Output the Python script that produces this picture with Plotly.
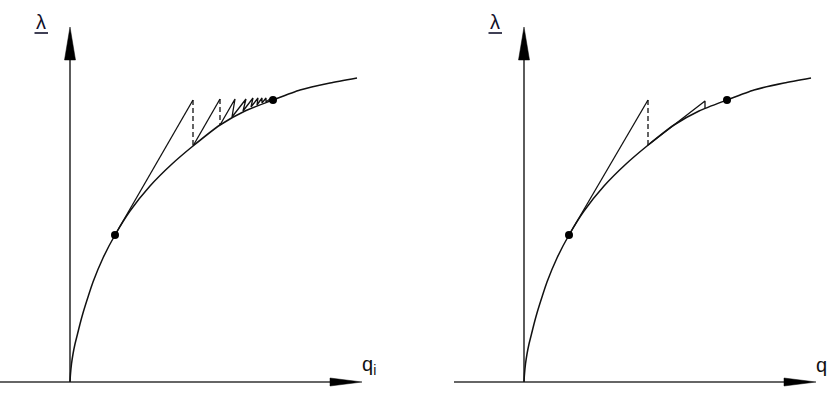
import plotly.graph_objects as go

# Equilibrium path lambda(q) shared by both panels (q, lambda in plot units)
curve_q = [0.000, 0.005, 0.015, 0.030, 0.050, 0.075, 0.10, 0.13, 0.18, 0.23, 0.33,
           0.45, 0.60, 0.80, 1.02, 1.23, 1.50, 1.75, 2.03, 2.30, 2.60, 2.87]
curve_lam = [0.00, 0.08, 0.18, 0.28, 0.38, 0.48, 0.58, 0.69, 0.85, 1.00, 1.24,
             1.47, 1.71, 1.96, 2.18, 2.36, 2.57, 2.71, 2.82, 2.92, 2.99, 3.04]

# Start and end states marked with dots
state_q = [0.45, 2.03]
state_lam = [1.47, 2.82]

# Left panel: constant-stiffness predictor steps with many corrections
left_pred_q = [0.45, 1.23, None, 1.23, 1.50, None,
               1.50, 1.65, 1.62, 1.76, 1.73, 1.83, 1.81, 1.88, 1.87, 1.92,
               1.92, 1.96, 1.96, 2.00]
left_pred_lam = [1.47, 2.82, None, 2.36, 2.83, None,
                 2.57, 2.83, 2.65, 2.83, 2.71, 2.84, 2.75, 2.84, 2.77, 2.84,
                 2.79, 2.84, 2.80, 2.83]
left_corr_q = [1.23, 1.23, None, 1.50, 1.50]
left_corr_lam = [2.82, 2.36, None, 2.83, 2.57]

# Right panel: tangent-stiffness predictor steps
right_pred_q = [0.45, 1.24, None, 1.24, 1.81, 1.81]
right_pred_lam = [1.47, 2.82, None, 2.37, 2.81, 2.74]
right_corr_q = [1.24, 1.24]
right_corr_lam = [2.82, 2.37]

# Coordinate axes drawn as arrows
axis_q_min, axis_q_tip = -0.70, 2.92
axis_lam_tip = 3.55
head_len_v, head_half_v = 0.33, 0.055
head_len_h, head_half_h = 0.32, 0.04

x_labels = ["q<sub>i</sub>", "q"]

INK = "#111111"
AXIS = "#333333"

fig = go.Figure()

panels = [
    ("x", "y", left_pred_q, left_pred_lam, left_corr_q, left_corr_lam),
    ("x2", "y2", right_pred_q, right_pred_lam, right_corr_q, right_corr_lam),
]

for idx, (xa, ya, pq, pl, cq, cl) in enumerate(panels):
    # axes
    fig.add_trace(go.Scatter(x=[axis_q_min, axis_q_tip - head_len_h], y=[0, 0],
                             mode="lines", line=dict(color=AXIS, width=1.6),
                             xaxis=xa, yaxis=ya, hoverinfo="skip"))
    fig.add_trace(go.Scatter(x=[0, 0], y=[0, axis_lam_tip - head_len_v],
                             mode="lines", line=dict(color=AXIS, width=1.6),
                             xaxis=xa, yaxis=ya, hoverinfo="skip"))
    # arrow heads
    fig.add_trace(go.Scatter(
        x=[axis_q_tip, axis_q_tip - head_len_h, axis_q_tip - head_len_h, axis_q_tip],
        y=[0, head_half_h, -head_half_h, 0],
        mode="lines", fill="toself", fillcolor="#000000",
        line=dict(color="#000000", width=0.5), xaxis=xa, yaxis=ya, hoverinfo="skip"))
    fig.add_trace(go.Scatter(
        x=[0, -head_half_v, head_half_v, 0],
        y=[axis_lam_tip, axis_lam_tip - head_len_v, axis_lam_tip - head_len_v, axis_lam_tip],
        mode="lines", fill="toself", fillcolor="#000000",
        line=dict(color="#000000", width=0.5), xaxis=xa, yaxis=ya, hoverinfo="skip"))
    # equilibrium path
    fig.add_trace(go.Scatter(x=curve_q, y=curve_lam, mode="lines",
                             line=dict(color=INK, width=1.5, shape="spline", smoothing=0.6),
                             xaxis=xa, yaxis=ya, hoverinfo="skip"))
    # predictor and corrector steps
    fig.add_trace(go.Scatter(x=pq, y=pl, mode="lines",
                             line=dict(color=INK, width=1.3),
                             xaxis=xa, yaxis=ya, hoverinfo="skip"))
    fig.add_trace(go.Scatter(x=cq, y=cl, mode="lines",
                             line=dict(color=INK, width=1.3, dash="5px,3px"),
                             xaxis=xa, yaxis=ya, hoverinfo="skip"))
    # state points
    fig.add_trace(go.Scatter(x=state_q, y=state_lam, mode="markers",
                             marker=dict(color="#000000", size=8),
                             xaxis=xa, yaxis=ya, hoverinfo="skip"))
    # labels
    fig.add_annotation(x=-0.29, y=3.605, xref=xa, yref=ya, text="λ", showarrow=False,
                       font=dict(family="Liberation Sans, Arial", size=20, color="#10102a"))
    fig.add_shape(type="line", x0=-0.355, x1=-0.22, y0=3.49, y1=3.49, xref=xa, yref=ya,
                  line=dict(color="#10102a", width=1.6))
    fig.add_annotation(x=2.91, y=0.17, xref=xa, yref=ya, text=x_labels[idx],
                       showarrow=False, xanchor="left", yanchor="middle", borderpad=0,
                       font=dict(family="Liberation Sans, Arial", size=20, color="#111111"))

split = 454 / 829
common_x = dict(visible=False, showgrid=False, zeroline=False, fixedrange=True)
common_y = dict(visible=False, showgrid=False, zeroline=False, fixedrange=True,
                range=[-0.12, 3.82])

fig.update_layout(
    width=829, height=394,
    margin=dict(l=0, r=0, t=0, b=0),
    paper_bgcolor="white", plot_bgcolor="white",
    showlegend=False,
    xaxis=dict(domain=[0, split], range=[-0.70, 3.84], **common_x),
    yaxis=dict(anchor="x", **common_y),
    xaxis2=dict(domain=[split, 1], range=[-0.70, 3.05], anchor="y2", **common_x),
    yaxis2=dict(anchor="x2", **common_y),
)

fig.write_html("out.html")
